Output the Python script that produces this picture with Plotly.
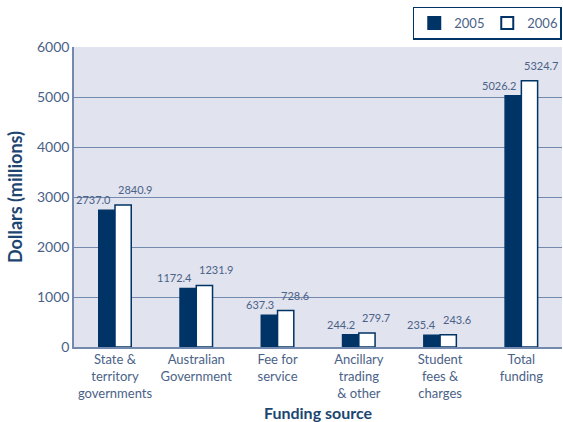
import plotly.graph_objects as go

categories = ["State &<br>territory<br>governments", "Australian<br>Government", "Fee for<br>service",
              "Ancillary<br>trading<br>& other", "Student<br>fees &<br>charges", "Total<br>funding"]
values_2005 = [2737.0, 1172.4, 637.3, 244.2, 235.4, 5026.2]
values_2006 = [2840.9, 1231.9, 728.6, 279.7, 243.6, 5324.7]
labels_2005 = ["2737.0", "1172.4", "637.3", "244.2", "235.4", "5026.2"]
labels_2006 = ["2840.9", "1231.9", "728.6", "279.7", "243.6", "5324.7"]
y_ticks = [0, 1000, 2000, 3000, 4000, 5000, 6000]

navy = "#003366"
txt = "#4a6288"
grid = "#7389ad"
title_col = "#1c4670"
font_family = "Lato, 'Open Sans', sans-serif"

fig = go.Figure()
fig.add_trace(go.Bar(x=categories, y=values_2005, name="2005",
                     marker=dict(color=navy, line=dict(color=navy, width=1.5))))
fig.add_trace(go.Bar(x=categories, y=values_2006, name="2006",
                     marker=dict(color="white", line=dict(color=navy, width=1.5))))

for c, v, l in zip(categories, values_2005, labels_2005):
    fig.add_annotation(x=c, y=v, text=l, showarrow=False, xanchor="right", yanchor="bottom",
                       xshift=-2, yshift=2, font=dict(size=11, color=txt, family=font_family))
for c, v, l in zip(categories, values_2006, labels_2006):
    fig.add_annotation(x=c, y=v, text=l, showarrow=False, xanchor="left", yanchor="bottom",
                       xshift=1, yshift=7, font=dict(size=11, color=txt, family=font_family))

fig.update_layout(
    width=563, height=422,
    margin=dict(l=74, r=1, t=47, b=75, autoexpand=False),
    plot_bgcolor="#e1e3ee", paper_bgcolor="white",
    barmode="group", bargap=0.6, bargroupgap=0,
    font=dict(family=font_family, color=txt, size=13),
    showlegend=True,
    legend=dict(orientation="h", x=0.9995, xanchor="right", y=1.135, yanchor="top",
                bordercolor=navy, borderwidth=1.5, bgcolor="white",
                font=dict(size=13, color=txt), itemsizing="constant", itemwidth=30,
                entrywidth=28, entrywidthmode="pixels", tracegroupgap=0),
    xaxis=dict(showline=True, linecolor=grid, linewidth=1.5, ticks="", showgrid=False,
               tickfont=dict(size=13, color=txt),
               title=dict(text="<b>Funding source</b>", font=dict(size=16, color=title_col), standoff=10)),
    yaxis=dict(range=[0, 6000], tickvals=y_ticks, showline=True, linecolor=grid, linewidth=1.5,
               gridcolor=grid, gridwidth=1, ticks="", zeroline=False,
               tickfont=dict(size=14, color=txt),
               title=dict(text="<b>Dollars (millions)</b>", font=dict(size=18, color=title_col), standoff=10)),
)
fig.write_html("out.html", config={"displayModeBar": False},
               post_script="document.body.style.margin='0';document.body.style.overflow='hidden';")
